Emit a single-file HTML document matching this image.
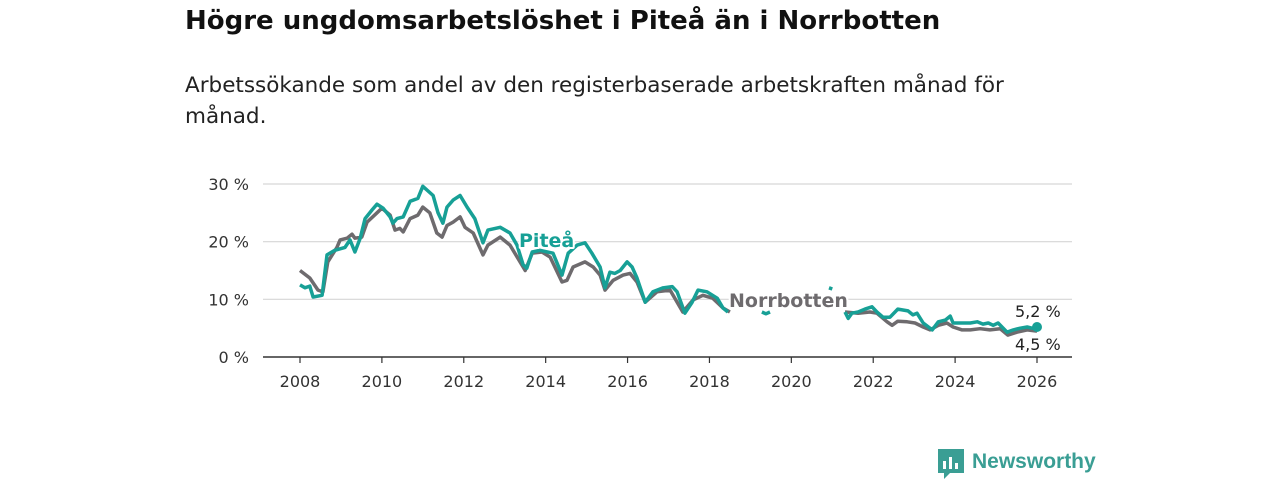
<!DOCTYPE html>
<html><head><meta charset="utf-8"><style>
body{margin:0;background:#fff;width:1280px;height:480px;overflow:hidden;font-family:"DejaVu Sans","Liberation Sans",sans-serif}
#title{position:absolute;left:185px;top:6px;font-size:26px;font-weight:bold;color:#111;margin:0;white-space:nowrap}
#sub{position:absolute;left:185px;top:70px;font-size:21.5px;color:#222;line-height:31px;width:850px;margin:0}
svg{position:absolute;left:0;top:0}
</style></head><body>
<h1 id="title">Högre ungdomsarbetslöshet i Piteå än i Norrbotten</h1>
<p id="sub">Arbetssökande som andel av den registerbaserade arbetskraften månad för månad.</p>
<svg id="chart" width="1280" height="480"></svg>
<script>
const yTicks=[0,10,20,30];
const yTickLabels=["0 %","10 %","20 %","30 %"];
const xTicks=[2008,2010,2012,2014,2016,2018,2020,2022,2024,2026];
const piteaDates=[2008.00,2008.12,2008.24,2008.32,2008.54,2008.66,2008.85,2009.10,2009.22,2009.34,2009.47,2009.59,2009.76,2009.88,2010.03,2010.20,2010.27,2010.37,2010.52,2010.69,2010.88,2011.00,2011.25,2011.37,2011.49,2011.59,2011.74,2011.91,2012.08,2012.27,2012.47,2012.59,2012.89,2013.13,2013.30,2013.45,2013.54,2013.67,2013.86,2014.18,2014.40,2014.55,2014.77,2014.96,2015.13,2015.33,2015.45,2015.57,2015.69,2015.82,2015.99,2016.11,2016.23,2016.43,2016.62,2016.87,2017.09,2017.21,2017.40,2017.57,2017.72,2017.94,2018.19,2018.33,2018.45,2018.9,2019.28,2019.38,2019.48,2020.5,2020.92,2021.00,2021.15,2021.31,2021.39,2021.48,2021.63,2021.80,2021.97,2022.09,2022.24,2022.41,2022.60,2022.85,2022.97,2023.07,2023.22,2023.44,2023.59,2023.76,2023.88,2023.95,2024.17,2024.37,2024.54,2024.68,2024.81,2024.93,2025.05,2025.27,2025.42,2025.59,2025.76,2025.88,2026.00];
const piteaValues=[12.5,12,12.3,10.4,10.7,17.7,18.5,19,20.3,18.2,20.6,24,25.5,26.5,25.8,24.3,23.2,24,24.3,27,27.5,29.6,28,25,23.2,26,27.2,28,26,24,19.8,22,22.5,21.5,19.4,16,15.4,18.2,18.5,18,14.2,18,19.4,19.8,18,15.6,12,14.7,14.5,15,16.5,15.6,13.7,9.5,11.3,12,12.2,11.3,7.6,9.4,11.6,11.3,10.2,8.5,7.8,null,7.8,7.5,7.8,null,12,11.8,null,7.8,6.7,7.6,7.8,8.3,8.7,7.8,6.9,6.9,8.3,8,7.3,7.6,5.9,4.7,6.1,6.4,7.1,5.9,5.9,5.9,6.1,5.7,5.9,5.5,5.9,4.3,4.7,5,5.2,5,5.2];
const norrDates=[2008.00,2008.24,2008.44,2008.56,2008.68,2008.90,2008.98,2009.15,2009.27,2009.34,2009.51,2009.64,2009.88,2010.00,2010.20,2010.32,2010.44,2010.52,2010.69,2010.88,2011.00,2011.17,2011.34,2011.47,2011.59,2011.74,2011.91,2012.03,2012.23,2012.47,2012.59,2012.89,2013.13,2013.50,2013.67,2013.91,2014.11,2014.40,2014.52,2014.67,2014.96,2015.16,2015.33,2015.45,2015.65,2015.89,2016.06,2016.23,2016.43,2016.72,2017.04,2017.35,2017.60,2017.84,2018.08,2018.33,2018.50,2019.5,2021.31,2021.63,2021.92,2022.09,2022.34,2022.46,2022.60,2022.83,2023.02,2023.22,2023.39,2023.59,2023.80,2023.95,2024.17,2024.37,2024.61,2024.85,2025.10,2025.29,2025.51,2025.76,2026.00];
const norrValues=[15,13.7,11.6,11.3,16.5,19,20.3,20.6,21.3,20.6,20.8,23.4,25,25.8,24.6,22,22.3,21.7,24,24.6,26,25,21.5,20.8,22.8,23.4,24.3,22.5,21.5,17.7,19.4,20.8,19.4,15,18,18.2,17.3,13,13.3,15.6,16.5,15.6,14.2,11.6,13.3,14.2,14.5,13,9.5,11.3,11.6,7.8,9.9,10.7,10.2,8.5,7.8,null,7.8,7.6,7.8,7.6,6.1,5.5,6.2,6.1,5.9,5.2,4.7,5.5,5.9,5.2,4.7,4.7,4.9,4.7,4.9,3.8,4.3,4.7,4.5];
const NS="http://www.w3.org/2000/svg",svg=document.getElementById('chart');
const X0=263,X1=1072,Y0=357,Y30=184;
const xs=y=>300+(y-2008)*(1037-300)/18;
const ys=v=>Y0-v*(Y0-Y30)/30;
function mk(t,a,p){const e=document.createElementNS(NS,t);for(const k in a)e.setAttribute(k,a[k]);(p||svg).appendChild(e);return e;}
yTicks.forEach((t,i)=>{
 if(t>0){const g=mk('line',{x1:X0,x2:X1,y1:ys(t),y2:ys(t),stroke:'#d6d6d6','stroke-width':1.2});
 
 }
 const l=mk('text',{x:249,y:ys(t)+6,'text-anchor':'end','font-size':16,fill:'#333'});l.textContent=yTickLabels[i];
 
 
});
const ax=mk('line',{x1:X0,x2:X1,y1:Y0,y2:Y0,stroke:'#333','stroke-width':1.5});


xTicks.forEach(t=>{
 mk('line',{x1:xs(t),x2:xs(t),y1:Y0,y2:Y0+6,stroke:'#333','stroke-width':1.2});
 const l=mk('text',{x:xs(t),y:387,'text-anchor':'middle','font-size':16,fill:'#333'});l.textContent=t;
 
 
});
function path(d,v){let s='',pen=false;d.forEach((t,i)=>{if(v[i]==null){pen=false;return;}s+=(pen?'L':'M')+xs(t).toFixed(1)+','+ys(v[i]).toFixed(1);pen=true;});return s;}
const pn=mk('path',{d:path(norrDates,norrValues),fill:'none',stroke:'#6e6b6e','stroke-width':3.5,'stroke-linejoin':'round'});


const pp=mk('path',{d:path(piteaDates,piteaValues),fill:'none',stroke:'#17a096','stroke-width':3.5,'stroke-linejoin':'round'});


const lastI=piteaDates.length-1;
const dot=mk('circle',{cx:xs(piteaDates[lastI]),cy:ys(piteaValues[lastI]),r:5,fill:'#17a096'});


function lab(txt,x,y,col,name,size,bold){const l=mk('text',{x:x,y:y,'font-size':size,fill:col,'font-weight':bold?'bold':'normal',stroke:'#fff','stroke-width':4,'paint-order':'stroke','stroke-linejoin':'round'});l.textContent=txt;
 
 }
lab('Piteå',519,247,'#17a096','pitea-label',19,true);
lab('Norrbotten',729,307,'#6e6b6e','norrbotten-label',19,true);
lab('5,2 %',1015,317,'#222','pitea-end-value',16,false);
lab('4,5 %',1015,350,'#222','norrbotten-end-value',16,false);
</script>
<div style="position:absolute;left:938px;top:449px;display:flex;align-items:center">
<svg width="26" height="30" style="position:relative"><path d="M0 0H26V24H12L6 30V24H0Z" fill="#3a9e94"/><rect x="5" y="12" width="3" height="8" fill="#fff"/><rect x="11" y="8" width="3" height="12" fill="#fff"/><rect x="17" y="14" width="3" height="6" fill="#fff"/></svg>
<span style="font-family:'Liberation Sans',sans-serif;font-size:21px;font-weight:bold;color:#3a9e94;margin-left:8px;margin-top:-4px">Newsworthy</span></div>
</body></html>
